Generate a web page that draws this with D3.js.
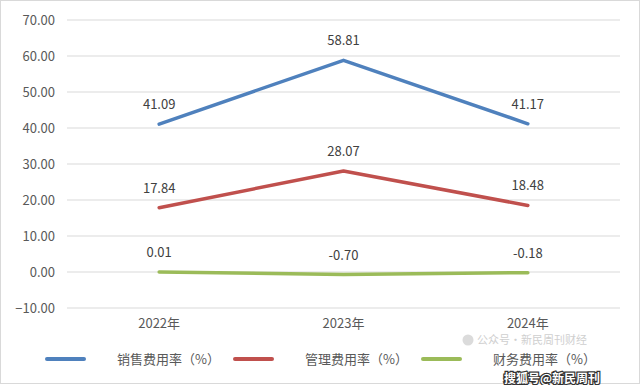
<!DOCTYPE html>
<html><head><meta charset="utf-8">
<script src="https://cdn.jsdelivr.net/npm/d3@7"></script>
<style>body{margin:0;background:#fff}svg{display:block}</style>
</head><body>
<svg id="c" width="640" height="385"></svg>
<script>
const categories = ["2022年", "2023年", "2024年"];
const seriesNames = ["销售费用率（%）", "管理费用率（%）", "财务费用率（%）"];
const sales = [41.09, 58.81, 41.17];
const admin = [17.84, 28.07, 18.48];
const finance = [0.01, -0.70, -0.18];
const yTicks = [-10, 0, 10, 20, 30, 40, 50, 60, 70];
const colors = ["#4f81bd", "#c0504d", "#9bbb59"];
const series = [sales, admin, finance];

const svg = d3.select("#c");
const font = "'Noto Sans CJK SC', sans-serif";
svg.append("rect").attr("x",0.5).attr("y",0.5).attr("width",639).attr("height",383)
  .attr("fill","#fff").attr("stroke","#d9d9d9");

const x = d3.scaleBand().domain(categories).range([67, 620]);
const y = d3.scaleLinear().domain([-10, 70]).range([308, 20]);

// gridlines
svg.append("g").selectAll("line").data(yTicks).join("line")
  .attr("x1", 67).attr("x2", 620)
  .attr("y1", d => y(d)).attr("y2", d => y(d))
  .attr("stroke", "#d9d9d9").attr("stroke-width", 1);

// y axis
const yAxis = svg.append("g").attr("transform","translate(67,0)")
  .call(d3.axisLeft(y).tickValues(yTicks).tickFormat(d3.format(".2f")).tickSize(0).tickPadding(12));
yAxis.select(".domain").remove();
yAxis.selectAll("text").attr("fill","#595959").style("font-size","13px").style("font-family",font);

// x axis
const xAxis = svg.append("g").attr("transform","translate(0,316)")
  .call(d3.axisBottom(x).tickSize(0).tickPadding(3));
xAxis.select(".domain").remove();
xAxis.selectAll("text").attr("fill","#595959").style("font-size","13px").style("font-family",font);

const cx = d => x(d) + x.bandwidth()/2;
const line = d3.line().x((d,i) => cx(categories[i])).y(d => y(d));

series.forEach((s, k) => {
  svg.append("path").datum(s).attr("d", line).attr("fill","none")
    .attr("stroke", colors[k]).attr("stroke-width", 3.5).attr("stroke-linecap","round").attr("stroke-linejoin","round");
  svg.append("g").selectAll("text").data(s).join("text")
    .attr("x", (d,i) => cx(categories[i]))
    .attr("y", (d) => y(d) - 15)
    .attr("text-anchor","middle")
    .attr("fill","#404040").style("font-size","13px").style("font-family",font)
    .text(d => d.toFixed(2));
});

// legend
const legX = [47, 235, 423];
seriesNames.forEach((n, k) => {
  svg.append("line").attr("x1", legX[k]).attr("x2", legX[k]+37).attr("y1", 359).attr("y2", 359)
    .attr("stroke", colors[k]).attr("stroke-width", 4).attr("stroke-linecap","round");
  svg.append("text").attr("x", legX[k]+70).attr("y", 364)
    .attr("fill","#595959").style("font-size","13px").style("font-family",font).text(n);
});

// watermarks
const wm = svg.append("g").attr("opacity", 0.75);
wm.append("circle").attr("cx", 468).attr("cy", 340).attr("r", 5.5).attr("fill", "#d0d0d0");
wm.append("text").attr("x", 477).attr("y", 344).attr("fill","#c0c0c0")
  .style("font-size","11px").style("font-family",font).text("公众号·新民周刊财经");
svg.append("text").attr("x", 504).attr("y", 383).attr("fill","#fff").attr("stroke","#333").attr("stroke-width",2.5)
  .attr("paint-order","stroke").style("font-size","12px").style("font-weight","bold").style("font-family",font).text("搜狐号@新民周刊");
</script>
</body></html>
